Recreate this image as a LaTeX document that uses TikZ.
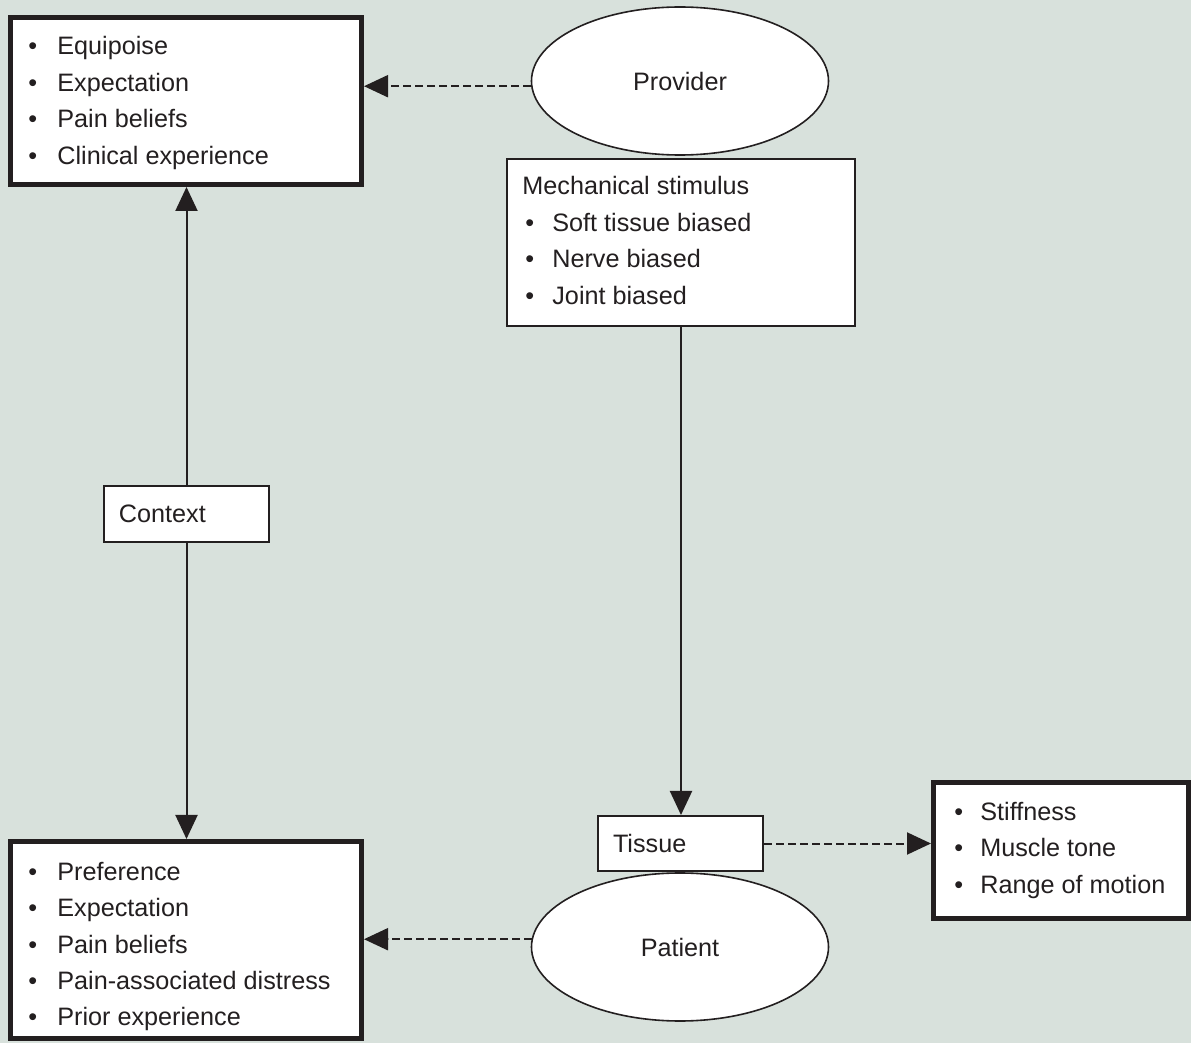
\documentclass[tikz,border=0pt]{standalone}
\usepackage{fontspec}
\setmainfont{Liberation Sans}
\usetikzlibrary{arrows.meta,shapes.geometric}
\definecolor{bg}{HTML}{D8E1DC}
\definecolor{ink}{HTML}{231F20}
% bullet in a fixed-width slot
\newcommand\bul[1]{\makebox[#1][l]{\textbullet}}
\begin{document}
\begin{tikzpicture}[x=0.5pt,y=-0.5pt,
  thickbox/.style={rectangle, draw=ink, line width=2.5pt, fill=white, inner sep=0pt},
  thinbox/.style={rectangle, draw=ink, line width=1pt, fill=white, inner sep=0pt},
  labelbox/.style={thinbox, minimum width=82.5pt, text width=67.5pt, inner xsep=7.5pt,
    align=left, text=ink, font=\fontsize{12.6}{18.25}\selectfont},
  oval/.style={ellipse, draw=ink, line width=0.8pt, fill=white, minimum width=148.5pt,
    minimum height=74pt, inner sep=0pt, text=ink, font=\fontsize{12.6}{18.25}\selectfont},
  txt/.style={anchor=base west, inner sep=0pt, text=ink, font=\fontsize{12.6}{18.25}\selectfont},
  link/.style={draw=ink, line width=1pt, -{Triangle[length=12pt,width=11pt]}},
  dlink/.style={link, dash pattern=on 4pt off 2pt}]

% background
\fill[bg] (0,0) rectangle (1191,1043);
\useasboundingbox (0,0) rectangle (1191,1043);

% boxes and ovals
\node[thickbox, minimum width=175.5pt, minimum height=83.5pt] (tl) at (186,101) {};
\node[thickbox, minimum width=175.5pt, minimum height=98.5pt] (bl) at (186,940) {};
\node[thickbox, minimum width=127.5pt, minimum height=68pt] (rb) at (1061,850.5) {};
\node[oval] (prov) at (680,81) {Provider};
\node[thinbox, minimum width=174pt, minimum height=83.5pt] (mech) at (681,242.5) {};
\node[labelbox, minimum height=28pt] (ctx) at (186.5,514) {Context};
\node[oval] (pat) at (680,947) {Patient};
\node[labelbox, minimum height=27.5pt] (tis) at (680.5,843.5) {Tissue};

% box contents
\node[txt] (tltext) at (28,55) {\begin{tabular}[t]{@{}l@{}}
  \bul{14.5pt}Equipoise\\
  \bul{14.5pt}Expectation\\
  \bul{14.5pt}Pain beliefs\\
  \bul{14.5pt}Clinical experience
\end{tabular}};
\node[txt] (mechtext) at (522,195) {\begin{tabular}[t]{@{}l@{}}
  Mechanical stimulus\\
  \hspace{1.5pt}\bul{13.5pt}Soft tissue biased\\
  \hspace{1.5pt}\bul{13.5pt}Nerve biased\\
  \hspace{1.5pt}\bul{13.5pt}Joint biased
\end{tabular}};
\node[txt] (bltext) at (28,880) {\begin{tabular}[t]{@{}l@{}}
  \bul{14.5pt}Preference\\
  \bul{14.5pt}Expectation\\
  \bul{14.5pt}Pain beliefs\\
  \bul{14.5pt}Pain-associated distress\\
  \bul{14.5pt}Prior experience
\end{tabular}};
\node[txt] (rbtext) at (954,820) {\begin{tabular}[t]{@{}l@{}}
  \bul{13pt}Stiffness\\
  \bul{13pt}Muscle tone\\
  \bul{13pt}Range of motion
\end{tabular}};

% connectors
\draw[dlink] (prov.182) -- (prov.182 -| tl.east);
\draw[dlink] (pat.177) -- (pat.177 -| bl.east);
\draw[dlink] (tis.east) -- (tis.east -| rb.west);
\draw[link] (mech.south) -- (mech.south |- tis.north);
\draw[link] (ctx.north) -- (ctx.north |- tl.south);
\draw[link] (ctx.south) -- (ctx.south |- bl.north);
\end{tikzpicture}
\end{document}
